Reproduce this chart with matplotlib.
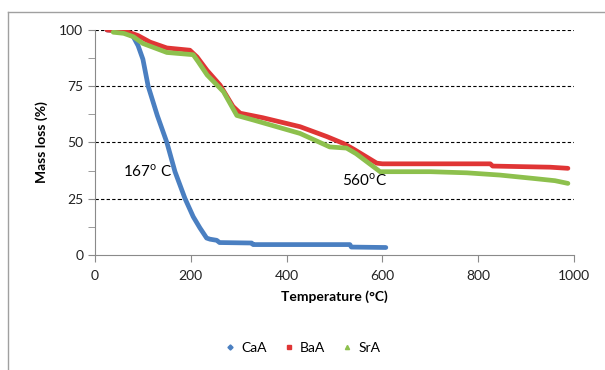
import matplotlib
matplotlib.use("Agg")
import matplotlib.pyplot as plt
from matplotlib.lines import Line2D
from matplotlib.ticker import MultipleLocator

plt.rcParams['font.family'] = ['Lato', 'DejaVu Sans']

# data (temperature in C, mass in %)
caa_t = [25, 60, 80, 90, 100, 111, 130, 150, 167, 188, 205, 219, 233, 240, 254, 260, 327, 330, 532, 535, 607]
caa_m = [100, 99.5, 97, 93, 87, 75, 62, 50, 37, 25, 17, 12, 7.5, 7, 6.5, 5.5, 5.3, 4.6, 4.6, 3.5, 3.3]

baa_t = [25, 50, 70, 90, 115, 150, 198, 213, 234, 261, 288, 303, 350, 428, 484, 518, 540, 588, 600, 700, 825, 830, 950, 987]
baa_m = [100, 99.5, 99, 97.5, 94.6, 92, 91, 88, 82, 75.5, 66, 63, 61, 57, 52.6, 49.6, 47, 40.8, 40.5, 40.5, 40.5, 39.5, 39, 38.5]

sra_t = [38, 60, 80, 100, 150, 205, 215, 234, 268, 296, 330, 428, 490, 525, 545, 595, 700, 776, 845, 915, 960, 987]
sra_m = [99, 98.5, 97, 94, 90, 89, 86, 80, 72.6, 62, 60, 54, 48, 47.5, 45, 37, 37, 36.5, 35.5, 34, 33, 31.8]

series = [("CaA", caa_t, caa_m, '#4a7fc1', 'D'),
          ("BaA", baa_t, baa_m, '#e03535', 's'),
          ("SrA", sra_t, sra_m, '#8dc04d', '^')]

fig = plt.figure(figsize=(6.05, 3.7), dpi=100)
ax = fig.add_axes([0.157, 0.311, 0.792, 0.608])

for name, t, m, col, mk in series:
    ax.plot(t, m, color=col, lw=3.4, solid_capstyle='round', solid_joinstyle='round')

ax.set_xlim(0, 1000)
ax.set_ylim(0, 100)
ax.xaxis.set_major_locator(MultipleLocator(200))
ax.yaxis.set_major_locator(MultipleLocator(25))
ax.yaxis.set_minor_locator(MultipleLocator(12.5))

for y in [25, 50, 75, 100]:
    ax.axhline(y, color='black', ls=(0, (3, 2)), lw=0.8, zorder=0)

for s in ['top', 'right']:
    ax.spines[s].set_visible(False)
for s in ['left', 'bottom']:
    ax.spines[s].set_color('#8a8a8a')
ax.tick_params(which='both', color='#8a8a8a', length=5, labelsize=10, labelcolor='#222222')
ax.tick_params(axis='x', pad=6)

ax.set_xlabel("Temperature (\u00b0C)", fontsize=10, fontweight='bold', labelpad=6)
ax.set_ylabel("Mass loss (%)", fontsize=10, fontweight='bold', labelpad=8)

ax.text(58, 37, "167$^\\mathregular{o}$ C", fontsize=11, va='center', ha='left')
ax.text(515, 33, "560$^\\mathregular{o}$C", fontsize=11, va='center', ha='left')

handles = [Line2D([], [], ls='none', marker=mk, color=col, markersize=3 if mk != 'D' else 2.6)
           for name, t, m, col, mk in series]
fig.legend(handles, [s[0] for s in series], loc='center', bbox_to_anchor=(0.5, 0.06),
           ncol=3, frameon=False, fontsize=10, handlelength=0.8, handletextpad=0.4, columnspacing=1.2)

# outer chart border
fig.add_artist(Line2D([8 / 605, 1], [1 - 12 / 370, 1 - 12 / 370], color='#a0a0a0', lw=1, transform=fig.transFigure))
fig.add_artist(Line2D([8 / 605, 8 / 605], [0, 1 - 12 / 370], color='#a0a0a0', lw=1, transform=fig.transFigure))

fig.savefig("out.png", dpi=100)
